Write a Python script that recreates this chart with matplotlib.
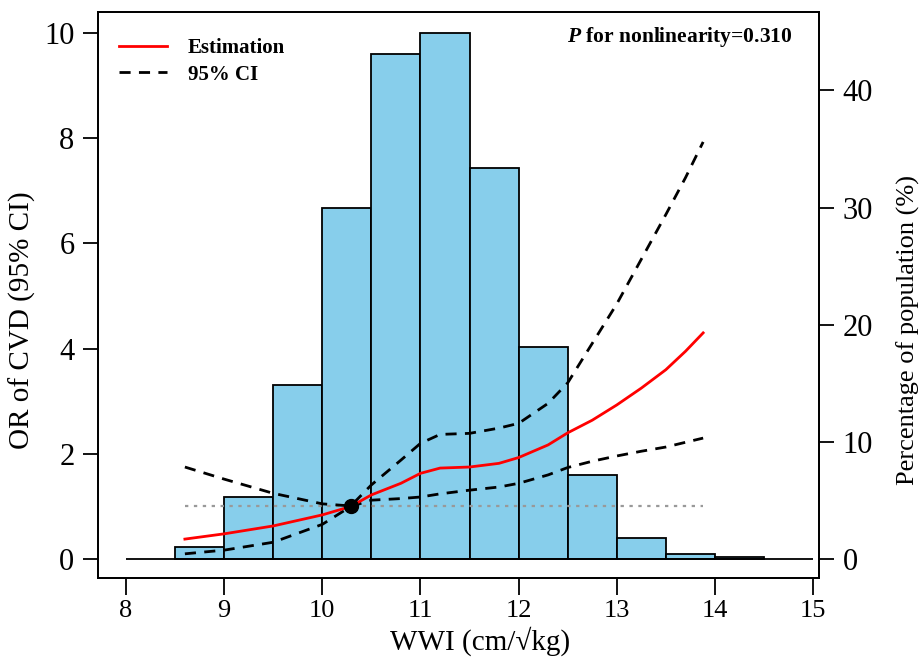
import matplotlib
matplotlib.use("Agg")
import matplotlib.pyplot as plt

plt.rcParams['font.family'] = ['Liberation Serif', 'DejaVu Serif']
plt.rcParams['mathtext.fontset'] = 'custom'
plt.rcParams['mathtext.it'] = 'Liberation Serif:italic:bold'
plt.rcParams['mathtext.rm'] = 'Liberation Serif:bold'

# Histogram of WWI distribution (percentage of population)
bin_left = [8.5, 9.0, 9.5, 10.0, 10.5, 11.0, 11.5, 12.0, 12.5, 13.0, 13.5, 14.0]
pct = [1.05, 5.3, 14.9, 30.0, 43.1, 44.9, 33.4, 18.1, 7.2, 1.8, 0.45, 0.15]
BIN_W = 0.5

# RCS curve: OR estimate and 95% CI
wwi = [8.6, 9.0, 9.5, 10.0, 10.29, 10.5, 10.8, 11.0, 11.2, 11.5, 11.8, 12.0,
       12.3, 12.5, 12.75, 13.0, 13.25, 13.5, 13.7, 13.88]
est = [0.38, 0.48, 0.63, 0.84, 1.0, 1.22, 1.44, 1.63, 1.73, 1.75, 1.82, 1.93,
       2.17, 2.40, 2.64, 2.93, 3.25, 3.6, 3.95, 4.3]
upper = [1.75, 1.52, 1.25, 1.05, 1.01, 1.41, 1.88, 2.2, 2.37, 2.39, 2.49, 2.58,
         2.96, 3.35, 4.1, 4.85, 5.7, 6.55, 7.25, 7.93]
lower = [0.10, 0.17, 0.32, 0.66, 1.0, 1.12, 1.15, 1.18, 1.24, 1.31, 1.37, 1.44,
         1.6, 1.74, 1.86, 1.96, 2.05, 2.13, 2.22, 2.3]

REF_X = 10.29
REF_Y = 1.0

fig = plt.figure(figsize=(9.23, 6.66), dpi=100)
ax = fig.add_axes([0.1062, 0.1321, 0.7811, 0.8499])
ax2 = ax.twinx()

# Histogram on the right axis, drawn behind the curves
ax2.bar(bin_left, pct, width=BIN_W, align='edge', color='#87CEEB',
        edgecolor='black', linewidth=1.3, zorder=1)
ax2.set_ylim(-1.62, 46.7)
ax2.set_yticks([0, 10, 20, 30, 40])
ax2.set_ylabel('Percentage of population (%)', fontsize=19)
ax2.yaxis.set_label_coords(1.108, 0.438)

ax.set_zorder(ax2.get_zorder() + 1)
ax.patch.set_visible(False)

ax.hlines(0, 8, 15, color='black', linewidth=1.3, zorder=2)
ax.hlines(REF_Y, wwi[0], wwi[-1], color='#999999', linestyle=(0, (1.5, 2.5)),
          linewidth=1.6, zorder=2)
ax.plot(wwi, est, color='red', linewidth=2, zorder=4, label='Estimation')
ax.plot(wwi, upper, color='black', linestyle=(0, (4, 3)), linewidth=2,
        zorder=3, label='95% CI')
ax.plot(wwi, lower, color='black', linestyle=(0, (4, 3)), linewidth=2, zorder=3)
ax.plot([REF_X], [REF_Y], 'o', color='black', markersize=10, zorder=5)

ax.set_xlim(7.715, 15.06)
ax.set_ylim(-0.36, 10.40)
ax.set_xticks(range(8, 16))
ax.set_yticks([0, 2, 4, 6, 8, 10])
ax.set_xlabel('WWI (cm/\u221akg)', fontsize=21)
ax.set_ylabel('OR of CVD (95% CI)', fontsize=21)
ax.xaxis.set_label_coords(0.53, -0.086)
ax.yaxis.set_label_coords(-0.086, 0.456)

for a in (ax, ax2):
    a.tick_params(direction='out', length=12, width=1.3, labelsize=19, pad=4)
    a.tick_params(axis='y', length=11, labelsize=22, pad=6)
    for s in a.spines.values():
        s.set_linewidth(1.3)

leg = ax.legend(loc='upper left', bbox_to_anchor=(0.0, 0.99), frameon=False,
                handlelength=2.3, prop={'size': 15, 'weight': 'bold'},
                borderaxespad=0.6, labelspacing=0.3, handletextpad=1.0)

ax.text(0.963, 0.955, r'$P$ for nonlinearity=0.310', transform=ax.transAxes,
        ha='right', va='center', fontsize=15.5, fontweight='bold')

fig.savefig('out.png', dpi=100)
